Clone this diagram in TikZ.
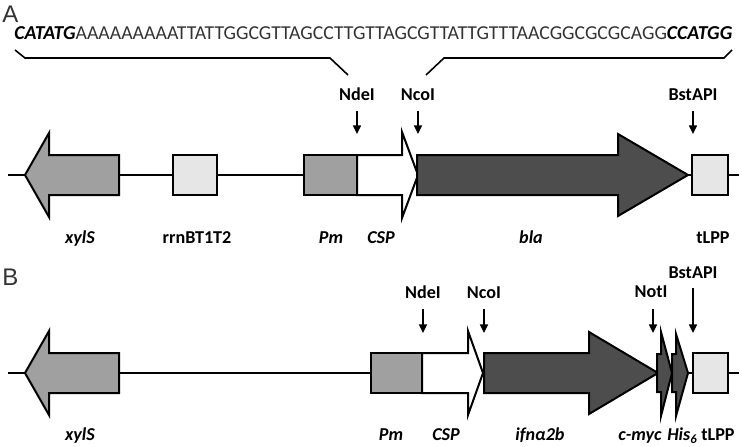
\documentclass[tikz,border=0pt]{standalone}
\usepackage{fontspec}
\setmainfont{Carlito}
\newfontfamily\arialfont{Liberation Sans}
\usetikzlibrary{arrows.meta}
\definecolor{midgray}{HTML}{A0A0A0}
\definecolor{boxgray}{HTML}{E6E6E6}
\definecolor{darkfill}{HTML}{4D4D4D}
\definecolor{seqgray}{HTML}{333333}
\begin{document}
\begin{tikzpicture}[x=0.75pt,y=-0.75pt,
  part/.style={draw=black, line width=1.5pt, line join=miter},
  backbone/.style={line width=1.5pt},
  cut/.style={line width=1.1pt, -{Triangle[length=6.5pt,width=6pt]}},
  bracket/.style={line width=1.2pt},
  site/.style={font=\fontsize{13.6}{15}\selectfont\bfseries, inner sep=0, anchor=base},
  gene/.style={font=\fontsize{13.6}{15}\selectfont\bfseries\itshape, inner sep=0, anchor=base},
  gname/.style={font=\fontsize{13.6}{15}\selectfont\bfseries, inner sep=0, anchor=base},
  panel/.style={font=\arialfont\fontsize{18}{20}\selectfont, text=seqgray, inner sep=0, anchor=base west}]
\useasboundingbox (0,0) rectangle (742,446);

% ---------------- Panel A ----------------
\node[panel] (labA) at (2,22) {A};
\node[inner sep=0, anchor=base west, text=seqgray] (seq) at (14,40)
  {\resizebox{538.5pt}{!}{\fontsize{14.5}{16}\selectfont{\color{black}\bfseries\itshape CATATG}AAAAAAAAATTATTGGCGTTAGCCTTGTTAGCGTTATTGTTTAACGGCGCGCAGG{\color{black}\bfseries\itshape CCATGG}}};

\coordinate (bl1) at (15,50);
\coordinate (bl2) at (25,58);
\coordinate (bl3) at (330,58);
\coordinate (bl4) at (348,75);
\coordinate (br1) at (426,75);
\coordinate (br2) at (444,58);
\coordinate (br3) at (724,58);
\coordinate (br4) at (732,50);
\draw[bracket] (bl1) -- (bl2) -- (bl3) -- (bl4);
\draw[bracket] (br1) -- (br2) -- (br3) -- (br4);

% backbone A
\coordinate (a0) at (8,175);
\coordinate (a1) at (739,175);
\draw[backbone] (a0) -- (a1);

% shapes A
\draw[part, fill=midgray] (25,175) -- (49,133) -- (49,155) -- (119,155) -- (119,195) -- (49,195) -- (49,217) -- cycle;
\draw[part, fill=boxgray] (173,155) rectangle (217,195);
\draw[part, fill=midgray] (304,155) rectangle (357,195);
\draw[part, fill=white] (357,155) -- (402,155) -- (402,132) -- (418,175) -- (402,218) -- (402,195) -- (357,195) -- cycle;
\draw[part, fill=darkfill] (417,155) -- (618,155) -- (618,134) -- (688,175) -- (618,216) -- (618,195) -- (417,195) -- cycle;
\draw[part, fill=boxgray] (692,155) rectangle (728,195);

% sites A
\node[site] (ndeA) at (357,100) {NdeI};
\node[site] (ncoA) at (418,100) {NcoI};
\node[site] (bstA) at (693,100) {BstAPI};
\coordinate (ndeAs) at (357,111);
\coordinate (ncoAs) at (418,111);
\coordinate (bstAs) at (693,111);
\coordinate (ndeAt) at (357,134);
\coordinate (ncoAt) at (418,134);
\coordinate (bstAt) at (693,134);
\draw[cut] (ndeAs) -- (ndeAt);
\draw[cut] (ncoAs) -- (ncoAt);
\draw[cut] (bstAs) -- (bstAt);

% labels A
\node[gene] (xylA) at (80,243) {xylS};
\node[gname] (rrnA) at (197,243) {rrnBT1T2};
\node[gene] (pmA) at (331,243) {Pm};
\node[gene] (cspA) at (381,243) {CSP};
\node[gene] (blaA) at (531,243) {bla};
\node[gname] (tlppA) at (713,243) {tLPP};

% ---------------- Panel B ----------------
\node[panel] (labB) at (2,285) {B};

\coordinate (b0) at (8,373);
\coordinate (b1) at (739,373);
\draw[backbone] (b0) -- (b1);

\draw[part, fill=midgray] (25,373) -- (49,331) -- (49,353) -- (119,353) -- (119,393) -- (49,393) -- (49,415) -- cycle;
\draw[part, fill=midgray] (371,353) rectangle (422,393);
\draw[part, fill=white] (422,353) -- (468,353) -- (468,331) -- (483,373) -- (468,415) -- (468,393) -- (422,393) -- cycle;
\draw[part, fill=darkfill] (484,353) -- (589,353) -- (589,332) -- (658,373) -- (589,414) -- (589,393) -- (484,393) -- cycle;
\draw[part, fill=darkfill] (657,354) -- (661,354) -- (661,332) -- (672,373) -- (661,416) -- (661,392) -- (657,392) -- cycle;
\draw[part, fill=darkfill] (672,354) -- (676,354) -- (676,334) -- (688,373) -- (676,416) -- (676,392) -- (672,392) -- cycle;
\draw[part, fill=boxgray] (693,353) rectangle (728,393);

% sites B
\node[site] (ndeB) at (423,298) {NdeI};
\node[site] (ncoB) at (484,298) {NcoI};
\node[site] (notB) at (651,297) {NotI};
\node[site] (bstB) at (693,278) {BstAPI};
\coordinate (ndeBt) at (423,333);
\coordinate (ncoBt) at (484,333);
\coordinate (notBt) at (653,333);
\coordinate (bstBt) at (693,333);
\coordinate (ndeBs) at (423,309);
\coordinate (ncoBs) at (484,309);
\coordinate (notBs) at (653,309);
\coordinate (bstBs) at (693,288);
\draw[cut] (ndeBs) -- (ndeBt);
\draw[cut] (ncoBs) -- (ncoBt);
\draw[cut] (notBs) -- (notBt);
\draw[cut] (bstBs) -- (bstBt);

% labels B
\node[gene] (xylB) at (80,440) {xylS};
\node[gene] (pmB) at (391,440) {Pm};
\node[gene] (cspB) at (446,440) {CSP};
\node[gene] (ifnB) at (540,440) {ifnα2b};
\node[gene] (mycB) at (640,440) {c-myc};
\node[gene] (hisB) at (682,440) {His\raisebox{-2.5pt}{\fontsize{9.5}{10}\selectfont 6}};
\node[gname] (tlppB) at (718,440) {tLPP};
\end{tikzpicture}
\end{document}
